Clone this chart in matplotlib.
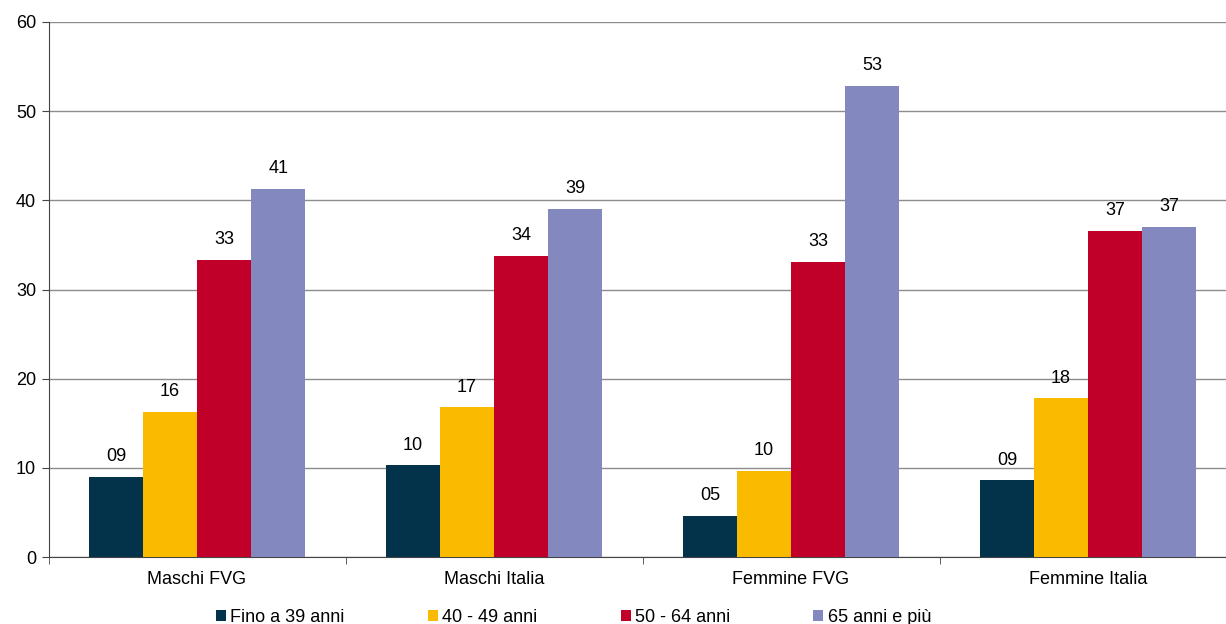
import numpy as np
import matplotlib
matplotlib.use("Agg")
import matplotlib.pyplot as plt

plt.rcParams['font.family'] = ['Liberation Sans', 'DejaVu Sans']

categories = ['Maschi FVG', 'Maschi Italia', 'Femmine FVG', 'Femmine Italia']
series_names = ['Fino a 39 anni', '40 - 49 anni', '50 - 64 anni', '65 anni e più']
fino_39 = [9.0, 10.3, 4.6, 8.6]
anni_40_49 = [16.3, 16.8, 9.7, 17.8]
anni_50_64 = [33.3, 33.8, 33.1, 36.6]
anni_65 = [41.3, 39.0, 52.8, 37.0]
colors = ['#02334b', '#f9ba00', '#c1002a', '#8389bf']

values = [fino_39, anni_40_49, anni_50_64, anni_65]

fig = plt.figure(figsize=(12.26, 6.24), dpi=100)
ax = fig.add_axes([0.0396, 0.107, 0.969, 0.858])

x = np.arange(len(categories))
w = 0.182
for i, (name, vals, c) in enumerate(zip(series_names, values, colors)):
    pos = x + (i - 1.5) * w
    bars = ax.bar(pos, vals, width=w, color=c, label=name, zorder=3)
    for b, v in zip(bars, vals):
        ax.annotate('%02.0f' % v, (b.get_x() + b.get_width() / 2, v),
                    xytext=(0, 8.5), textcoords='offset points',
                    ha='center', va='bottom', fontsize=13)

ax.set_xlim(-0.5, len(categories) - 0.5)
ax.set_ylim(0, 60)
ax.set_yticks(range(0, 61, 10))
ax.yaxis.grid(True, color='#8c8c8c', linewidth=1, zorder=0)
ax.tick_params(axis='y', labelsize=13, length=5, direction='out', color='#444444', pad=4)

ax.set_xticks(x)
ax.set_xticklabels(categories, fontsize=13)
ax.set_xticks(np.arange(-0.5, len(categories)), minor=True)
ax.tick_params(axis='x', which='major', length=0, pad=10)
ax.tick_params(axis='x', which='minor', length=5, color='#444444')

for s in ['top', 'right']:
    ax.spines[s].set_visible(False)
ax.spines['left'].set_color('#444444')
ax.spines['bottom'].set_color('#444444')

ax.legend(loc='upper center', bbox_to_anchor=(0.442, -0.083), ncol=4, frameon=False,
          fontsize=13, handlelength=0.55, handleheight=0.55, handletextpad=0.25,
          columnspacing=4.6, borderaxespad=0)

fig.savefig('out.png', dpi=100)
